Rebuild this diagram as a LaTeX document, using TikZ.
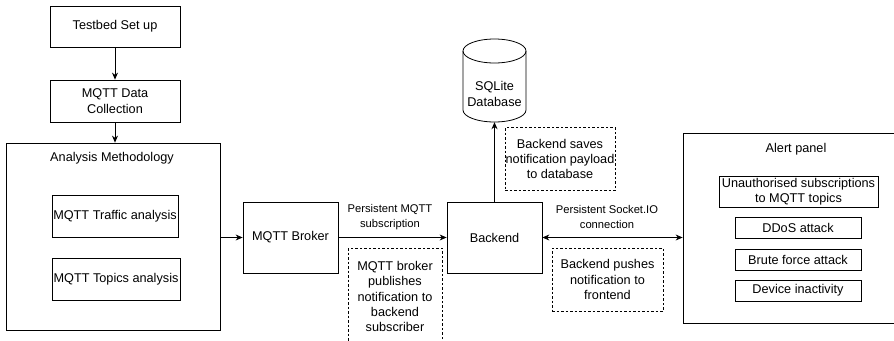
\documentclass[tikz,border=0pt]{standalone}
\usepackage{fontspec}
\setmainfont{Liberation Sans}
\usetikzlibrary{arrows.meta}
\tikzset{
  box/.style={draw, line width=0.8pt, rectangle, inner sep=0pt, align=center,
    font=\fontsize{12.7}{15.3}\selectfont},
  note/.style={draw, dashed, dash pattern=on 2.5pt off 2pt, line width=0.7pt,
    rectangle, inner sep=0pt, align=center, font=\fontsize{12.7}{15.3}\selectfont},
  txt/.style={inner sep=0pt, align=center, font=\fontsize{12.7}{15.3}\selectfont},
  lbl/.style={inner sep=0pt, align=center, font=\fontsize{11.2}{14.5}\selectfont},
  link/.style={line width=0.8pt, -{Stealth[length=7pt,width=6pt]}},
  biglink/.style={line width=0.8pt, {Stealth[length=7pt,width=6pt]}-{Stealth[length=7pt,width=6pt]}},
}
\begin{document}
\begin{tikzpicture}[x=1pt,y=-1pt]
\useasboundingbox (0,0) rectangle (894,340);
\clip (0,0) rectangle (894,340);

% left column
\node[box, minimum width=130pt, minimum height=41pt] (testbed) at (115,26.5) {Testbed Set up};
\node[box, minimum width=130pt, minimum height=42pt] (collect) at (115,101) {MQTT Data\\Collection};
\node[box, minimum width=214pt, minimum height=187pt] (analysis) at (113,236.5) {};
\node[txt] (antitle) at (112,158) {Analysis Methodology};
\node[box, minimum width=126pt, minimum height=42pt] (traffic) at (115,216) {MQTT Traffic analysis};
\node[box, minimum width=128pt, minimum height=42pt] (topics) at (116,279) {MQTT Topics analysis};

% middle
\node[box, minimum width=95pt, minimum height=71pt] (broker) at (290.5,237.5) {MQTT Broker};
\node[box, minimum width=95pt, minimum height=71pt] (backend) at (494.5,237.5) {Backend};

% database cylinder
\node[inner sep=0pt, minimum width=63pt, minimum height=84pt] (db) at (494.5,80) {};
\node[txt] (dbtext) at (494.5,94) {SQLite\\Database};
\draw[line width=0.8pt] (463,51) -- (463,110) arc[start angle=180, end angle=360, x radius=31.5pt, y radius=12pt]
  -- (526,51);
\draw[line width=0.8pt] (494.5,51) ellipse[x radius=31.5pt, y radius=12pt];

% notes
\node[note, minimum width=110pt, minimum height=63pt] (savenote) at (560,159) {Backend saves\\notification payload\\to database};
\draw[dashed, dash pattern=on 2.5pt off 2pt, line width=0.7pt] (348,248) rectangle (442,350);
\node[txt] (pubnote) at (395,296.5) {MQTT broker\\publishes\\notification to\\backend\\subscriber};
\node[note, minimum width=111pt, minimum height=63pt] (pushnote) at (607.5,279.5) {Backend pushes\\notification to\\frontend};

% alert panel
\node[box, minimum width=230pt, minimum height=190pt] (alert) at (798,228) {};
\node[txt] (altitle) at (796,149) {Alert panel};
\node[box, minimum width=159pt, minimum height=31pt] (unauth) at (798.5,191.5) {Unauthorised subscriptions\\to MQTT topics};
\node[box, minimum width=126pt, minimum height=21pt] (ddos) at (798,227.5) {DDoS attack};
\node[box, minimum width=126pt, minimum height=21pt] (brute) at (798,259.5) {Brute force attack};
\node[box, minimum width=126pt, minimum height=21pt] (device) at (798,290.5) {Device inactivity};

% connectors
\draw[link] (testbed) -- (collect);
\draw[link] (collect.south) -- (collect.south |- analysis.north);
\draw[link] (analysis.east |- broker.west) -- (broker.west);
\draw[link] (broker) -- (backend);
\draw[link] (backend.north) -- (db.south);
\draw[biglink] (backend.east) -- (backend.east -| alert.west);

% connector labels
\node[lbl] (mqttlbl) at (390,217) {Persistent MQTT\\subscription};
\node[lbl] (socklbl) at (607,217) {Persistent Socket.IO\\connection};
\end{tikzpicture}
\end{document}
